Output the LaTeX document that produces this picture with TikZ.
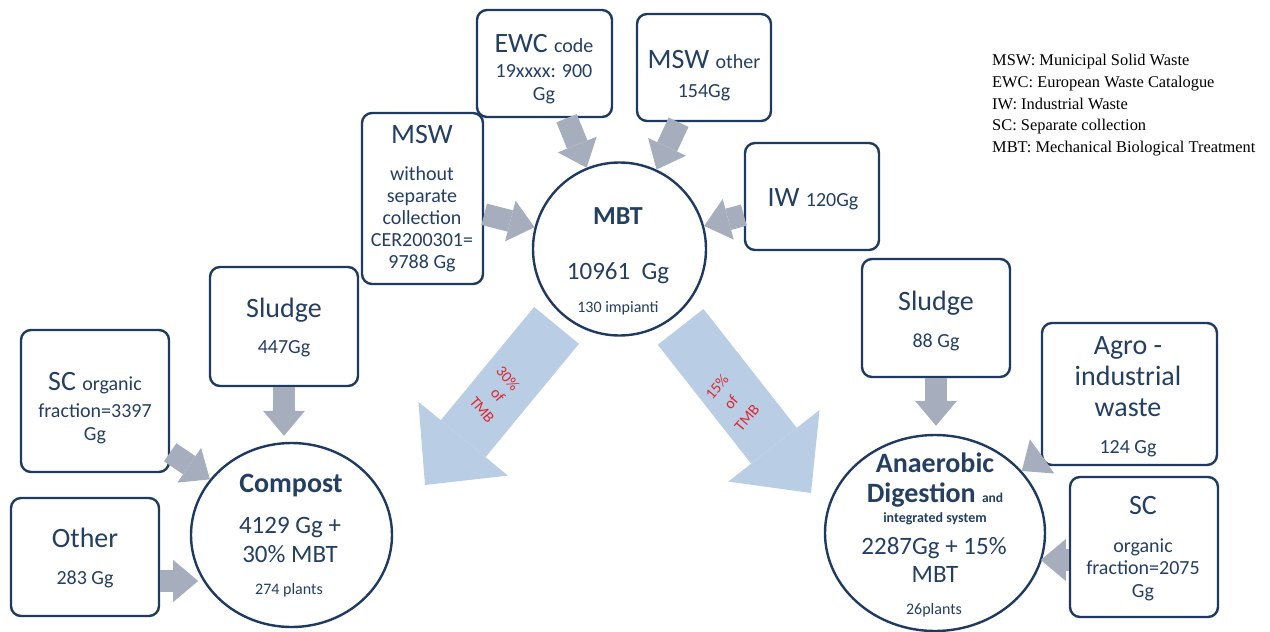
\documentclass[tikz,border=0pt]{standalone}
\usepackage{fontspec}
\setmainfont{Carlito}
\newfontfamily\legfont{Liberation Serif}
\usetikzlibrary{arrows.meta,shapes.geometric,calc}
\definecolor{navy}{HTML}{1F3A60}
\definecolor{txt}{HTML}{243F62}
\definecolor{garr}{HTML}{A6ADBD}
\definecolor{barr}{HTML}{B9CDE5}
\definecolor{redt}{HTML}{DC2830}
\newcommand\fsz[2]{\fontsize{#1}{#2}\selectfont}
\begin{document}
\begin{tikzpicture}[x=1pt,y=-1pt,
  box/.style={draw=navy,line width=2.4pt,rounded corners=10pt,fill=white,rectangle,inner sep=0pt},
  hub/.style={draw=navy,line width=2.4pt,fill=white,inner sep=0pt},
  t/.style={anchor=base,text=txt,inner sep=0pt},
  leg/.style={anchor=base west,text=black,inner sep=0pt,font=\legfont\fsz{16.4}{18}},
  gar/.style={draw=garr,line width=22pt,-{Triangle[length=25pt,width=42pt,line width=0pt]}},
  bar/.style={draw=barr,line width=58pt,-{Triangle[length=60pt,width=116pt,line width=0pt]}},
  redlbl/.style={text=redt,anchor=center,inner sep=0pt,font=\fsz{15.5}{17}}]
\useasboundingbox (0,0) rectangle (1270,632);
% boxes
\node[box,minimum width=135pt,minimum height=107pt] (ewc) at (544.5,63.5) {};
\node[box,minimum width=134pt,minimum height=107pt] (mswo) at (704,67.5) {};
\node[box,minimum width=121pt,minimum height=171pt] (mswl) at (422.5,198.5) {};
\node[box,minimum width=134pt,minimum height=107pt] (iw) at (812,196.5) {};
\node[box,minimum width=148pt,minimum height=119pt] (sludgeL) at (284,326.5) {};
\node[box,minimum width=148pt,minimum height=142pt] (scL) at (95,401) {};
\node[box,minimum width=148pt,minimum height=118pt] (other) at (85,557) {};
\node[box,minimum width=148pt,minimum height=118pt] (sludgeR) at (936,318) {};
\node[box,minimum width=175pt,minimum height=142pt] (agro) at (1129.5,394) {};
\node[box,minimum width=148pt,minimum height=140pt] (scR) at (1144,547) {};
% hubs
\node[hub,circle,minimum size=173pt] (mbt) at (619.5,249) {};
\node[hub,ellipse,minimum width=201pt,minimum height=184pt] (compost) at (291.5,535) {};
\node[hub,ellipse,minimum width=220pt,minimum height=196pt] (ad) at (935,533) {};
% grey arrows
\draw[gar] (ewc) -- (mbt);
\draw[gar] (mswo) -- (mbt);
\draw[gar] (mswl) -- (mbt);
\draw[gar] (iw) -- (mbt);
\draw[gar,shorten >=6pt] (sludgeL) -- (sludgeL |- compost.north);
\draw[gar] (scL) -- (compost);
\draw[gar] ([yshift=-24pt]other.east) -- ++(38,0);
\draw[gar,shorten >=8pt] (sludgeR) -- (sludgeR |- ad.north);
\draw[gar] (agro) -- (ad);
\draw[gar] ([yshift=-13pt]scR.west) -- ++(-28,0);
% big blue arrows
\coordinate (tipL) at (425,485);
\coordinate (tipR) at (811,493);
\draw[bar] ($(mbt)!99pt!(tipL)$) -- (tipL);
\draw[bar] ($(mbt)!99pt!(tipR)$) -- (tipR);
\node[redlbl,rotate=-50] (pl1) at (508,378) {30\%};
\node[redlbl,rotate=-50] (pl2) at (498,395) {of};
\node[redlbl,rotate=-50] (pl3) at (482,410) {TMB};
\node[redlbl,rotate=50] (pr1) at (717,387) {15\%};
\node[redlbl,rotate=50] (pr2) at (731,402) {of};
\node[redlbl,rotate=50] (pr3) at (747,418) {TMB};
% texts
\node[t] (ewc1) at (544,52) {\fsz{28}{30}EWC \fsz{20}{22}code};
\node[t] (ewc2) at (544,77) {\fsz{20}{22}19xxxx: 900};
\node[t] (ewc3) at (544,100) {\fsz{20}{22}Gg};
\node[t] (mswo1) at (704,68) {\fsz{28}{30}MSW \fsz{20}{22}other};
\node[t] (mswo2) at (704,97) {\fsz{20}{22}154Gg};
\node[t] (mswl1) at (422,143) {\fsz{28}{30}MSW};
\node[t] (mswl2) at (422,180) {\fsz{20}{22}without};
\node[t] (mswl3) at (422,202) {\fsz{20}{22}separate};
\node[t] (mswl4) at (422,224) {\fsz{20}{22}collection};
\node[t] (mswl5) at (422,246) {\fsz{20}{22}CER200301=};
\node[t] (mswl6) at (422,268) {\fsz{20}{22}9788 Gg};
\node[t] (iw1) at (813,206) {\fsz{28}{30}IW \fsz{20}{22}120Gg};
\node[t] (mbt1) at (618,224) {\fsz{26}{28}\bfseries MBT};
\node[t] (mbt2) at (618,279) {\fsz{25}{27}10961\ \ Gg};
\node[t] (mbt3) at (618,312) {\fsz{16}{18}130 impianti};
\node[t] (sl1) at (284,317) {\fsz{28}{30}Sludge};
\node[t] (sl2) at (284,353) {\fsz{20}{22}447Gg};
\node[t] (scl1) at (95,390) {\fsz{28}{30}SC \fsz{20}{22}organic};
\node[t] (scl2) at (95,417) {\fsz{20}{22}fraction=3397};
\node[t] (scl3) at (95,440) {\fsz{20}{22}Gg};
\node[t] (oth1) at (85,547) {\fsz{28}{30}Other};
\node[t] (oth2) at (85,584) {\fsz{20}{22}283 Gg};
\node[t] (cmp1) at (291,492) {\fsz{28}{30}\bfseries Compost};
\node[t] (cmp2) at (290,533) {\fsz{25}{27}4129 Gg +};
\node[t] (cmp3) at (290,562) {\fsz{25}{27}30\% MBT};
\node[t] (cmp4) at (289,594) {\fsz{16}{18}274 plants};
\node[t] (sr1) at (936,310) {\fsz{28}{30}Sludge};
\node[t] (sr2) at (936,347) {\fsz{20}{22}88 Gg};
\node[t] (ag1) at (1128,354) {\fsz{28}{30}Agro -};
\node[t] (ag2) at (1128,385) {\fsz{28}{30}industrial};
\node[t] (ag3) at (1128,416) {\fsz{28}{30}waste};
\node[t] (ag4) at (1128,453) {\fsz{20}{22}124 Gg};
\node[t] (scr1) at (1143,514) {\fsz{28}{30}SC};
\node[t] (scr2) at (1143,552) {\fsz{20}{22}organic};
\node[t] (scr3) at (1143,574) {\fsz{20}{22}fraction=2075};
\node[t] (scr4) at (1143,597) {\fsz{20}{22}Gg};
\node[t] (ad1) at (935,472) {\fsz{28}{30}\bfseries Anaerobic};
\node[t] (ad2) at (935,502) {\fsz{28}{30}\bfseries Digestion \fsz{13.5}{15}and};
\node[t] (ad3) at (935,522) {\fsz{14}{16}\bfseries integrated system};
\node[t] (ad4) at (934,554) {\fsz{25}{27}2287Gg + 15\%};
\node[t] (ad5) at (935,582) {\fsz{25}{27}MBT};
\node[t] (ad6) at (934,614) {\fsz{16}{18}26plants};
% legend
\node[leg] (l1) at (992,65) {MSW: Municipal Solid Waste};
\node[leg] (l2) at (992,87) {EWC: European Waste Catalogue};
\node[leg] (l3) at (992,109) {IW: Industrial Waste};
\node[leg] (l4) at (992,130) {SC: Separate collection};
\node[leg] (l5) at (992,152) {MBT: Mechanical Biological Treatment};
\end{tikzpicture}
\end{document}
